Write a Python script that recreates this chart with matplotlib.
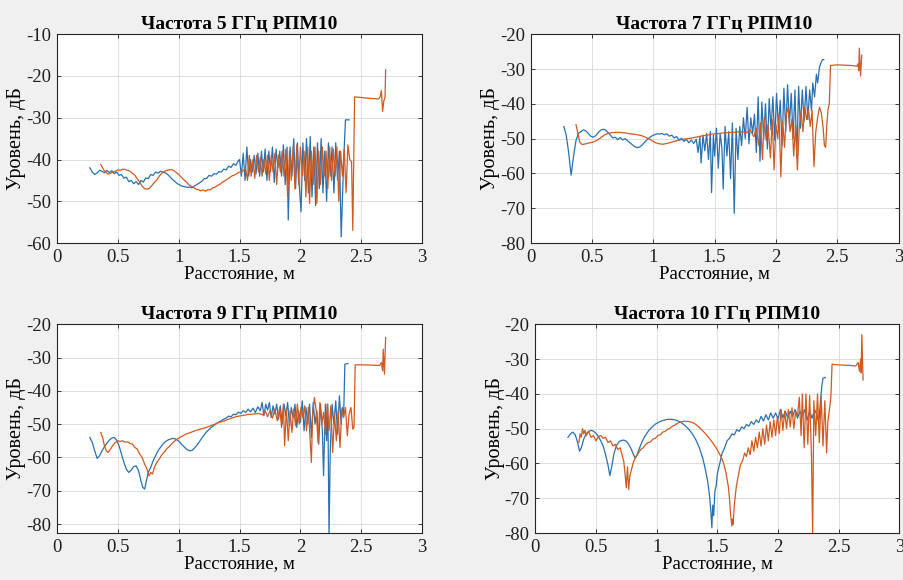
import numpy as np
import matplotlib
matplotlib.use("Agg")
import matplotlib.pyplot as plt

plt.rcParams['font.family'] = ['Liberation Serif', 'DejaVu Serif']

titles = ['Частота 5 ГГц РПМ10', 'Частота 7 ГГц РПМ10',
          'Частота 9 ГГц РПМ10', 'Частота 10 ГГц РПМ10']
xlabel = 'Расстояние, м'
ylabel = 'Уровень, дБ'
xtick_vals = [0, 0.5, 1, 1.5, 2, 2.5, 3]
xtick_labels = ['0', '0.5', '1', '1.5', '2', '2.5', '3']

# ---- 5 GHz ----
x5_blue = [0.27, 0.29, 0.31, 0.33, 0.35, 0.37, 0.39, 0.41, 0.43, 0.45, 0.47, 0.49,
           0.51, 0.53, 0.55, 0.57, 0.59, 0.61, 0.63, 0.65, 0.67, 0.69, 0.71, 0.73,
           0.75, 0.77, 0.79, 0.81, 0.83, 0.85, 0.87, 0.89, 0.91, 0.93, 0.95, 0.97,
           0.99, 1.01, 1.03, 1.05, 1.07, 1.09, 1.11, 1.13, 1.15, 1.17, 1.19, 1.21,
           1.23, 1.25, 1.27, 1.29, 1.31, 1.33, 1.35, 1.37, 1.39, 1.41, 1.43, 1.45,
           1.47, 1.49, 1.50, 1.515, 1.53, 1.545, 1.56, 1.575, 1.59, 1.605, 1.62,
           1.635, 1.65, 1.665, 1.68, 1.695, 1.71, 1.725, 1.74, 1.755, 1.77, 1.785,
           1.80, 1.815, 1.83, 1.845, 1.86, 1.875, 1.89, 1.90, 1.915, 1.93, 1.945,
           1.96, 1.975, 1.99, 2.005, 2.02, 2.035, 2.05, 2.065, 2.08, 2.095, 2.11,
           2.125, 2.14, 2.155, 2.17, 2.185, 2.20, 2.215, 2.23, 2.245, 2.26, 2.275,
           2.29, 2.305, 2.32, 2.335, 2.35, 2.36, 2.37, 2.40]
y5_blue = [-42.0, -43.0, -43.6, -43.2, -42.6, -42.8, -43.2, -42.6, -43.1, -42.7, -43.4, -43.0,
           -43.8, -43.6, -44.5, -44.2, -45.3, -45.0, -45.8, -45.3, -46.0, -45.0, -45.4, -44.4,
           -44.6, -43.6, -43.8, -43.0, -43.3, -42.8, -43.0, -43.2, -43.6, -44.2, -44.8, -45.3,
           -45.8, -46.1, -46.4, -46.5, -46.7, -46.6, -46.8, -46.3, -46.0, -45.6, -45.2, -44.6,
           -44.5, -43.8, -44.0, -43.4, -43.5, -42.9, -43.0, -42.3, -42.5, -41.6, -41.9, -41.0,
           -41.4, -40.3, -40.0, -44.0, -38.5, -45.0, -37.0, -44.0, -40.0, -43.0, -39.0,
           -43.5, -38.5, -44.0, -38.0, -43.0, -37.5, -45.0, -38.0, -43.0, -37.0, -45.5,
           -37.5, -42.0, -38.0, -44.0, -36.5, -46.0, -37.0, -54.5, -37.0, -44.0, -35.0,
           -47.0, -36.0, -46.0, -52.5, -36.0, -45.0, -35.0, -48.0, -34.5, -49.0, -37.0,
           -51.0, -36.0, -47.0, -35.0, -48.0, -38.0, -50.0, -36.0, -44.0, -37.0, -48.0,
           -36.0, -45.0, -38.0, -58.5, -45.0, -37.0, -30.5, -30.5]

x5_orange = [0.36, 0.38, 0.40, 0.42, 0.44, 0.46, 0.48, 0.50, 0.52, 0.54, 0.56, 0.58,
             0.60, 0.62, 0.64, 0.66, 0.68, 0.70, 0.72, 0.74, 0.76, 0.78, 0.80, 0.82,
             0.84, 0.86, 0.88, 0.90, 0.92, 0.94, 0.96, 0.98, 1.00, 1.02, 1.04, 1.06,
             1.08, 1.10, 1.12, 1.14, 1.16, 1.18, 1.20, 1.22, 1.24, 1.26, 1.28, 1.30,
             1.32, 1.34, 1.36, 1.38, 1.40, 1.42, 1.44, 1.46, 1.48, 1.50, 1.52, 1.55,
             1.565, 1.58, 1.595, 1.61, 1.625, 1.64, 1.655, 1.67, 1.685, 1.70, 1.715,
             1.73, 1.745, 1.76, 1.775, 1.79, 1.805, 1.82, 1.835, 1.85, 1.865, 1.88,
             1.895, 1.91, 1.925, 1.94, 1.955, 1.97, 1.985, 2.00, 2.015, 2.03, 2.045,
             2.06, 2.075, 2.09, 2.105, 2.12, 2.135, 2.15, 2.165, 2.18, 2.195, 2.21,
             2.225, 2.24, 2.255, 2.27, 2.285, 2.30, 2.315, 2.33, 2.345, 2.36, 2.375,
             2.39, 2.405, 2.42, 2.43, 2.445, 2.55, 2.64, 2.655, 2.665, 2.675, 2.685,
             2.695, 2.70]
y5_orange = [-41.2, -42.3, -43.0, -43.5, -43.3, -43.0, -42.8, -42.5, -42.6, -42.3, -42.4, -42.6,
             -42.8, -43.3, -43.8, -44.6, -45.5, -46.4, -47.0, -47.1, -46.9, -46.2, -45.5, -44.9,
             -44.0, -43.3, -42.9, -42.6, -42.5, -42.4, -42.7, -43.1, -43.6, -44.2, -44.8, -45.3,
             -45.9, -46.4, -46.6, -47.1, -47.2, -47.5, -47.3, -47.6, -47.2, -47.3, -46.8, -46.6,
             -46.2, -45.9, -45.4, -45.1, -44.7, -44.3, -43.9, -43.7, -43.3, -43.0, -42.9, -42.2,
             -45.0, -39.0, -44.0, -40.0, -44.5, -39.0, -43.0, -39.5, -44.0, -40.0, -43.5,
             -39.0, -45.0, -39.0, -43.0, -38.5, -46.0, -39.0, -43.0, -38.0, -44.0, -37.5,
             -49.0, -38.0, -45.0, -37.0, -47.0, -36.5, -46.0, -37.0, -44.0, -38.0, -49.0,
             -37.0, -50.5, -38.0, -46.0, -37.0, -50.5, -38.0, -46.0, -37.0, -44.0, -38.0,
             -47.0, -37.0, -45.0, -37.5, -44.0, -37.0, -50.0, -38.0, -44.0, -37.5, -48.0,
             -36.5, -40.0, -40.5, -57.0, -25.0, -25.3, -25.5, -25.0, -23.5, -28.5, -26.0,
             -25.0, -18.5]

# ---- 7 GHz ----
x7_blue = [0.27, 0.29, 0.31, 0.33, 0.35, 0.37, 0.39, 0.41, 0.43, 0.45, 0.47, 0.49,
           0.51, 0.53, 0.55, 0.57, 0.59, 0.61, 0.63, 0.65, 0.67, 0.69, 0.71, 0.73,
           0.75, 0.77, 0.79, 0.81, 0.83, 0.85, 0.87, 0.89, 0.91, 0.93, 0.95, 0.97,
           0.99, 1.01, 1.03, 1.05, 1.07, 1.09, 1.11, 1.13, 1.15, 1.17, 1.19, 1.21,
           1.23, 1.25, 1.27, 1.29, 1.31, 1.33, 1.35, 1.365, 1.38, 1.39, 1.405, 1.42,
           1.435, 1.45, 1.465, 1.475, 1.49, 1.50, 1.515, 1.53, 1.545, 1.56, 1.57,
           1.585, 1.60, 1.615, 1.63, 1.645, 1.66, 1.675, 1.69, 1.705, 1.72, 1.735,
           1.75, 1.765, 1.78, 1.795, 1.81, 1.825, 1.84, 1.855, 1.87, 1.885, 1.90,
           1.915, 1.93, 1.945, 1.96, 1.975, 1.99, 2.005, 2.02, 2.035, 2.05, 2.065,
           2.08, 2.095, 2.11, 2.125, 2.14, 2.155, 2.17, 2.185, 2.20, 2.215, 2.23,
           2.245, 2.26, 2.275, 2.29, 2.30, 2.315, 2.33, 2.34, 2.355, 2.37, 2.38, 2.39]
y7_blue = [-46.5, -49.0, -54.0, -60.5, -55.0, -50.5, -48.5, -48.0, -47.5, -47.8, -48.5, -49.3,
           -49.6, -49.2, -48.3, -47.6, -47.3, -47.5, -48.2, -49.0, -49.8, -49.6, -50.3, -49.7,
           -50.4, -50.0, -50.6, -51.2, -51.8, -52.3, -52.6, -52.4, -51.8, -51.0, -50.3, -49.7,
           -49.2, -48.9, -48.6, -48.7, -48.5, -48.9, -48.6, -49.3, -49.0, -49.8, -49.4, -50.4,
           -49.9, -50.8, -50.2, -51.2, -50.4, -51.4, -50.2, -54.0, -49.5, -57.0, -49.0, -53.5,
           -48.5, -56.0, -48.0, -65.5, -49.0, -55.0, -47.0, -58.5, -48.5, -53.0, -64.5,
           -46.5, -55.0, -48.0, -61.5, -45.5, -71.5, -47.0, -56.0, -46.5, -52.0, -44.0,
           -50.0, -41.0, -51.5, -44.0, -48.5, -43.0, -54.0, -38.0, -56.5, -39.5, -50.0,
           -40.0, -53.0, -38.5, -47.5, -38.0, -50.5, -37.0, -47.0, -39.0, -52.0, -35.5,
           -48.0, -34.5, -46.0, -37.0, -50.0, -36.0, -55.5, -35.0, -47.0, -36.0, -45.0,
           -35.0, -44.5, -36.0, -42.0, -34.0, -38.0, -31.5, -34.0, -29.5, -28.0, -27.3, -27.3]

x7_orange = [0.37, 0.385, 0.40, 0.42, 0.45, 0.48, 0.51, 0.54, 0.57, 0.60, 0.63, 0.66,
             0.69, 0.72, 0.75, 0.78, 0.81, 0.84, 0.87, 0.90, 0.93, 0.96, 0.99, 1.02,
             1.05, 1.08, 1.11, 1.14, 1.17, 1.20, 1.24, 1.28, 1.32, 1.36, 1.40, 1.44,
             1.48, 1.52, 1.56, 1.60, 1.64, 1.68, 1.72, 1.76, 1.79, 1.82, 1.84, 1.86,
             1.875, 1.89, 1.905, 1.92, 1.935, 1.955, 1.97, 1.985, 2.00, 2.015, 2.025,
             2.04, 2.055, 2.07, 2.085, 2.10, 2.115, 2.13, 2.145, 2.16, 2.175, 2.19,
             2.205, 2.22, 2.235, 2.25, 2.265, 2.28, 2.295, 2.31, 2.325, 2.34, 2.355,
             2.37, 2.385, 2.395, 2.405, 2.415, 2.425, 2.435, 2.445, 2.50, 2.56, 2.62,
             2.66, 2.67, 2.675, 2.68, 2.69, 2.70]
y7_orange = [-46.0, -48.5, -51.0, -51.7, -51.5, -51.2, -51.0, -50.5, -49.8, -49.0, -48.5, -48.3,
             -48.2, -48.2, -48.3, -48.4, -48.6, -48.7, -48.9, -49.1, -49.5, -50.0, -50.6, -51.2,
             -51.5, -51.6, -51.4, -51.1, -50.8, -50.5, -50.2, -50.0, -49.8, -49.5, -49.2, -49.0,
             -48.7, -48.6, -48.4, -48.3, -48.2, -48.1, -48.0, -48.3, -47.5, -49.5, -47.0, -52.0,
             -45.5, -56.0, -44.0, -50.5, -46.0, -55.5, -44.5, -59.0, -46.0, -50.0, -43.0,
             -61.0, -45.0, -52.5, -43.0, -41.0, -48.0, -44.5, -55.0, -46.0, -59.0, -47.0,
             -42.0, -48.0, -41.0, -44.5, -41.5, -46.5, -42.0, -58.0, -48.0, -44.0, -41.0,
             -42.5, -47.0, -52.0, -52.5, -46.0, -41.5, -40.0, -29.0, -28.8, -28.9, -29.0,
             -29.2, -28.5, -30.5, -24.0, -32.0, -26.0]

# ---- 9 GHz ----
x9_blue = [0.27, 0.29, 0.31, 0.33, 0.35, 0.37, 0.39, 0.41, 0.43, 0.45, 0.47, 0.49,
           0.51, 0.53, 0.55, 0.57, 0.59, 0.61, 0.63, 0.65, 0.67, 0.69, 0.705, 0.72,
           0.735, 0.75, 0.77, 0.79, 0.81, 0.83, 0.85, 0.87, 0.89, 0.91, 0.93, 0.95,
           0.97, 0.99, 1.01, 1.03, 1.05, 1.07, 1.09, 1.11, 1.13, 1.15, 1.17, 1.19,
           1.21, 1.23, 1.25, 1.27, 1.29, 1.31, 1.33, 1.35, 1.37, 1.39, 1.41, 1.43,
           1.45, 1.47, 1.49, 1.51, 1.53, 1.55, 1.57, 1.59, 1.61, 1.63, 1.65, 1.67,
           1.685, 1.70, 1.715, 1.73, 1.745, 1.76, 1.775, 1.79, 1.805, 1.82, 1.835,
           1.85, 1.865, 1.88, 1.895, 1.91, 1.925, 1.94, 1.955, 1.97, 1.985, 2.00,
           2.015, 2.03, 2.045, 2.06, 2.075, 2.09, 2.105, 2.12, 2.135, 2.15, 2.165,
           2.18, 2.19, 2.205, 2.215, 2.225, 2.235, 2.245, 2.26, 2.275, 2.29, 2.305,
           2.32, 2.335, 2.345, 2.355, 2.365, 2.39]
y9_blue = [-54.0, -55.5, -58.0, -60.3, -59.5, -58.0, -56.8, -55.8, -54.8, -54.2, -54.0, -54.8,
           -56.5, -59.0, -61.5, -63.5, -64.5, -63.8, -62.8, -62.5, -64.0, -67.0, -69.0, -69.5,
           -67.0, -64.5, -63.0, -61.0, -59.5, -58.0, -57.0, -56.0, -55.3, -54.8, -54.5, -54.3,
           -54.4, -54.8, -55.5, -56.3, -57.0, -57.7, -58.0, -57.9, -57.2, -56.3, -55.3, -54.2,
           -53.2, -52.3, -51.6, -50.9, -50.4, -49.8, -49.4, -49.0, -48.5, -48.2, -47.6, -47.8,
           -47.0, -47.2, -46.4, -46.8, -46.0, -46.5, -45.5, -46.3, -45.2, -46.5, -44.8, -46.0,
           -43.5, -47.5, -44.0, -45.8, -43.5, -48.0, -44.5, -47.0, -44.0, -48.5, -44.5,
           -50.0, -44.0, -47.5, -43.5, -50.5, -45.0, -48.0, -44.0, -51.0, -46.0, -49.5,
           -43.0, -52.0, -45.0, -50.0, -44.0, -54.0, -43.5, -50.0, -46.0, -56.0, -44.0,
           -52.0, -65.5, -44.0, -55.0, -44.0, -83.5, -58.0, -44.0, -50.0, -43.0, -53.0,
           -41.5, -50.0, -45.0, -47.5, -32.0, -31.8]

x9_orange = [0.36, 0.375, 0.39, 0.405, 0.42, 0.44, 0.46, 0.48, 0.50, 0.52, 0.54, 0.56,
             0.58, 0.60, 0.62, 0.64, 0.66, 0.68, 0.70, 0.72, 0.74, 0.755, 0.77, 0.785,
             0.80, 0.82, 0.84, 0.86, 0.88, 0.90, 0.92, 0.94, 0.96, 0.98, 1.00, 1.03,
             1.06, 1.09, 1.12, 1.15, 1.18, 1.21, 1.24, 1.27, 1.30, 1.33, 1.36, 1.39,
             1.42, 1.45, 1.48, 1.51, 1.54, 1.57, 1.60, 1.63, 1.66, 1.69, 1.71, 1.73,
             1.75, 1.77, 1.79, 1.81, 1.83, 1.845, 1.86, 1.87, 1.885, 1.90, 1.915, 1.93,
             1.945, 1.96, 1.975, 1.99, 2.005, 2.02, 2.035, 2.05, 2.065, 2.08, 2.09,
             2.10, 2.115, 2.13, 2.145, 2.16, 2.175, 2.19, 2.205, 2.22, 2.235, 2.25,
             2.265, 2.28, 2.295, 2.31, 2.325, 2.34, 2.355, 2.37, 2.385, 2.40, 2.415,
             2.43, 2.44, 2.45, 2.52, 2.60, 2.65, 2.665, 2.675, 2.68, 2.69, 2.70]
y9_orange = [-52.5, -54.0, -56.5, -58.0, -58.5, -57.5, -56.3, -55.5, -55.0, -55.2, -55.0, -55.4,
             -55.3, -55.8, -56.0, -57.0, -57.5, -59.0, -60.0, -62.0, -63.5, -65.5, -64.5, -65.0,
             -63.0, -61.5, -60.5, -59.3, -58.5, -57.5, -56.8, -56.0, -55.3, -54.7, -54.2, -53.6,
             -53.0, -52.6, -52.2, -51.8, -51.5, -51.2, -50.8, -50.4, -50.0, -49.5, -49.2, -48.8,
             -48.4, -48.0, -47.7, -47.5, -47.3, -47.1, -47.0, -46.9, -46.8, -47.2, -46.0, -47.8,
             -46.0, -48.2, -45.5, -49.0, -45.0, -51.0, -44.0, -56.5, -45.5, -55.0, -46.0, -52.5,
             -45.5, -50.5, -44.0, -50.0, -45.0, -48.0, -44.5, -52.0, -45.0, -55.0, -61.5,
             -47.0, -42.0, -46.0, -55.5, -43.5, -50.0, -46.5, -53.0, -44.0, -52.0, -44.5,
             -58.5, -47.0, -55.0, -46.0, -57.0, -45.5, -48.0, -45.0, -53.5, -47.0, -45.0,
             -51.5, -51.0, -32.2, -32.2, -32.3, -32.4, -31.5, -34.0, -27.5, -35.0, -24.0]

# ---- 10 GHz ----
x10_blue = [0.27, 0.29, 0.31, 0.33, 0.35, 0.365, 0.38, 0.40, 0.42, 0.44, 0.46, 0.48,
            0.50, 0.52, 0.54, 0.56, 0.58, 0.60, 0.615, 0.63, 0.65, 0.67, 0.69, 0.71,
            0.73, 0.75, 0.77, 0.79, 0.81, 0.825, 0.84, 0.86, 0.88, 0.90, 0.93, 0.96,
            0.99, 1.02, 1.05, 1.08, 1.11, 1.14, 1.17, 1.20, 1.23, 1.26, 1.29, 1.32,
            1.35, 1.38, 1.40, 1.42, 1.435, 1.445, 1.455, 1.462, 1.47, 1.48, 1.49, 1.50,
            1.52, 1.54, 1.56, 1.58, 1.60, 1.62, 1.64, 1.66, 1.68, 1.70, 1.72, 1.74,
            1.76, 1.78, 1.80, 1.82, 1.84, 1.86, 1.88, 1.90, 1.92, 1.94, 1.96, 1.98,
            2.00, 2.02, 2.04, 2.06, 2.08, 2.10, 2.12, 2.14, 2.16, 2.18, 2.20, 2.22,
            2.24, 2.26, 2.28, 2.30, 2.32, 2.335, 2.35, 2.36, 2.37, 2.39]
y10_blue = [-52.5, -51.5, -51.0, -51.8, -54.0, -56.5, -55.5, -53.0, -51.5, -50.8, -50.5, -50.7,
            -51.3, -52.2, -53.5, -55.0, -57.5, -60.5, -63.5, -61.0, -57.0, -54.8, -53.8, -53.4,
            -53.3, -53.6, -54.5, -55.8, -57.5, -58.5, -57.5, -55.5, -53.8, -52.4, -50.8, -49.6,
            -48.7, -48.1, -47.7, -47.4, -47.3, -47.4, -47.7, -48.2, -49.0, -50.0, -51.3, -53.0,
            -55.3, -58.5, -61.5, -65.0, -69.0, -73.0, -78.5, -72.0, -75.0, -68.0, -66.5, -63.0,
            -60.0, -57.0, -55.5, -53.5, -52.8, -51.5, -51.8, -50.3, -50.8, -49.5, -50.0, -48.8,
            -49.3, -48.0, -48.8, -47.5, -48.3, -46.5, -47.8, -46.0, -47.5, -45.5, -47.0, -45.5,
            -47.2, -44.5, -46.8, -45.0, -47.0, -45.0, -46.5, -44.5, -47.0, -45.0, -46.5, -44.5,
            -47.5, -45.0, -47.0, -44.5, -46.0, -48.5, -42.0, -38.0, -35.5, -35.3]

x10_orange = [0.36, 0.37, 0.38, 0.39, 0.40, 0.41, 0.42, 0.44, 0.46, 0.48, 0.50, 0.52,
              0.54, 0.56, 0.58, 0.60, 0.62, 0.64, 0.66, 0.68, 0.70, 0.715, 0.73, 0.74,
              0.75, 0.76, 0.77, 0.78, 0.795, 0.81, 0.83, 0.85, 0.87, 0.89, 0.91, 0.93,
              0.95, 0.97, 0.99, 1.01, 1.03, 1.05, 1.07, 1.09, 1.11, 1.13, 1.15, 1.17,
              1.19, 1.21, 1.23, 1.25, 1.27, 1.29, 1.31, 1.33, 1.35, 1.37, 1.39, 1.41,
              1.43, 1.45, 1.47, 1.49, 1.51, 1.53, 1.55, 1.57, 1.59, 1.60, 1.61, 1.62,
              1.625, 1.63, 1.64, 1.655, 1.67, 1.69, 1.71, 1.725, 1.74, 1.755, 1.77,
              1.785, 1.80, 1.815, 1.83, 1.845, 1.86, 1.875, 1.89, 1.905, 1.92, 1.935,
              1.95, 1.965, 1.98, 1.995, 2.01, 2.025, 2.04, 2.055, 2.07, 2.085, 2.10,
              2.115, 2.13, 2.145, 2.16, 2.175, 2.19, 2.20, 2.215, 2.23, 2.245, 2.26,
              2.275, 2.285, 2.295, 2.31, 2.325, 2.34, 2.355, 2.37, 2.385, 2.40, 2.41,
              2.425, 2.435, 2.445, 2.50, 2.58, 2.64, 2.66, 2.67, 2.68, 2.685, 2.69, 2.70]
y10_orange = [-54.0, -51.5, -52.5, -50.0, -51.5, -50.5, -52.0, -50.8, -52.5, -52.0, -53.5, -52.3,
              -52.0, -52.8, -52.5, -54.0, -53.5, -55.0, -54.5, -56.0, -55.5, -57.5, -59.5, -63.0,
              -67.0, -61.0, -67.5, -63.5, -61.5, -59.5, -58.0, -57.0, -56.0, -55.5, -54.6, -54.0,
              -53.8, -53.0, -52.8, -52.0, -51.8, -51.0, -50.8, -50.2, -49.9, -49.3, -49.0, -48.5,
              -48.2, -48.0, -47.9, -47.9, -48.0, -48.2, -48.5, -49.0, -49.6, -50.3, -51.0, -51.8,
              -52.6, -53.5, -54.5, -55.5, -56.8, -58.0, -59.8, -62.5, -66.5, -70.0, -75.0, -78.0,
              -76.0, -77.5, -72.0, -67.0, -64.0, -60.5, -59.0, -57.0, -58.0, -55.5, -57.5,
              -53.5, -56.5, -52.5, -55.5, -51.0, -55.0, -50.0, -54.5, -49.0, -53.5, -48.0,
              -52.5, -47.5, -52.0, -46.5, -51.5, -44.5, -50.5, -45.0, -50.0, -44.5, -49.5,
              -44.0, -50.0, -45.0, -46.5, -41.0, -52.0, -40.0, -55.5, -40.0, -54.5, -40.5,
              -57.5, -80.5, -42.0, -52.0, -40.0, -54.0, -40.5, -55.0, -42.0, -57.0, -48.0,
              -44.0, -41.0, -31.5, -31.7, -31.8, -32.0, -31.0, -33.5, -30.0, -34.0, -23.0, -36.0]

panels = [
    (x5_blue, y5_blue, x5_orange, y5_orange, (-60, -10), [-60, -50, -40, -30, -20, -10]),
    (x7_blue, y7_blue, x7_orange, y7_orange, (-80, -20), [-80, -70, -60, -50, -40, -30, -20]),
    (x9_blue, y9_blue, x9_orange, y9_orange, (-82.7, -20), [-80, -70, -60, -50, -40, -30, -20]),
    (x10_blue, y10_blue, x10_orange, y10_orange, (-80, -20), [-80, -70, -60, -50, -40, -30, -20]),
]

positions = [
    [0.063, 0.581, 0.404, 0.360],
    [0.587, 0.581, 0.407, 0.360],
    [0.063, 0.081, 0.404, 0.360],
    [0.592, 0.081, 0.403, 0.360],
]

blue = '#2a70b0'
orange = '#cf5a22'

fig = plt.figure(figsize=(9.04, 5.8), dpi=100)
fig.patch.set_facecolor('#f0f0f0')

for pos, title, (xb, yb, xo, yo, ylim, yticks) in zip(positions, titles, panels):
    ax = fig.add_axes(pos)
    ax.set_facecolor('white')
    ax.plot(xb, yb, color=blue, lw=0.9)
    ax.plot(xo, yo, color=orange, lw=0.9)
    ax.set_xlim(0, 3)
    ax.set_ylim(*ylim)
    ax.set_xticks(xtick_vals)
    ax.set_xticklabels(xtick_labels)
    ax.set_yticks(yticks)
    ax.set_yticklabels([str(v) for v in yticks])
    ax.grid(True, color='#dedede', lw=0.7)
    ax.set_axisbelow(True)
    ax.tick_params(direction='in', top=True, right=True, labelsize=13.5,
                   length=3, width=0.6, pad=4, colors='#202020')
    for s in ax.spines.values():
        s.set_color('#262626')
        s.set_linewidth(0.8)
    ax.set_title(title, fontsize=14, fontweight='bold', pad=4)
    ax.set_xlabel(xlabel, fontsize=13.5, labelpad=0)
    ax.set_ylabel(ylabel, fontsize=14.5, labelpad=0)

fig.savefig('out.png', dpi=100, facecolor=fig.get_facecolor())
